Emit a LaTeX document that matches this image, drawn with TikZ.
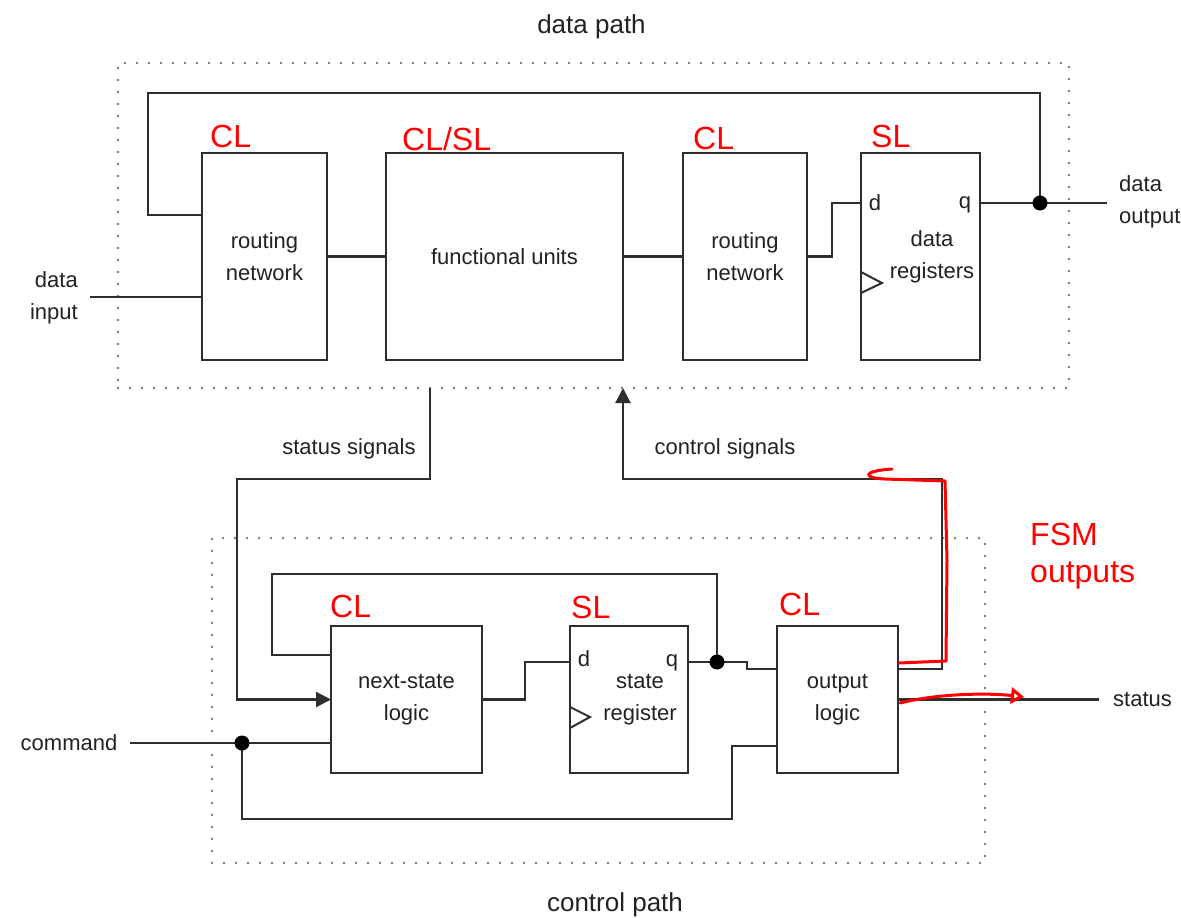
\documentclass[tikz,border=0pt]{standalone}
\usepackage{fontspec}
\setmainfont{Liberation Sans}
\usetikzlibrary{calc,arrows.meta}
\definecolor{ln}{HTML}{2E2E2E}
\definecolor{tx}{HTML}{222222}
\definecolor{dotc}{HTML}{7A7A7A}
\definecolor{rd}{HTML}{FF0000}
\newcommand\fslab{\fontsize{22}{32}\selectfont}
\newcommand\fstitle{\fontsize{26}{32}\selectfont}
\newcommand\fsred{\fontsize{32}{40}\selectfont}
\tikzset{
  wire/.style={draw=ln,line width=2.3pt},
  blk/.style={draw=ln,line width=2.5pt,minimum height=207pt,inner sep=0pt,outer sep=0pt,align=center,font=\fslab,text=tx},
  cblk/.style={blk,minimum height=147pt},
  dotbox/.style={draw=dotc,line width=2.8pt,dash pattern=on 0pt off 12pt,line cap=round,inner sep=0pt,outer sep=0pt},
  lab/.style={font=\fslab,text=tx,inner sep=0pt,align=center},
  ttl/.style={font=\fstitle,text=tx,inner sep=0pt},
  redlab/.style={font=\fsred,text=rd,inner sep=0pt},
  jdot/.style={circle,fill=black,inner sep=0pt,minimum size=15pt},
  arr/.style={-{Triangle[length=15pt,width=15pt]}},
  clk/.style={draw=ln,line width=2pt},
  redline/.style={draw=rd,line width=3pt,line cap=round,line join=round},
}
\begin{document}
\begin{tikzpicture}[x=1pt,y=-1pt]
\useasboundingbox[fill=white] (0,0) rectangle (1181,918);

% dotted enclosures
\node[dotbox,minimum width=951pt,minimum height=325pt] (dp) at (593.5,225.5) {};
\node[dotbox,minimum width=773pt,minimum height=325pt] (cp) at (598.5,700.5) {};

% data path blocks
\node[blk,minimum width=125pt] (rn1) at (264.5,256.5) {routing\\network};
\node[blk,minimum width=237pt] (fu) at (504.5,256.5) {functional units};
\node[blk,minimum width=124pt] (rn2) at (745,256.5) {routing\\network};
\node[blk,minimum width=119pt] (dreg) at (920.5,256.5) {};
\node[lab] (dregt) at (932,256.5) {data\\registers};
\node[lab] (dregd) at (875,203) {d};
\node[lab] (dregq) at (965,205) {q};

% control path blocks
\node[cblk,minimum width=151pt] (ns) at (406.5,699.5) {next-state\\logic};
\node[cblk,minimum width=118pt] (sreg) at (629,699.5) {};
\node[lab] (sregt) at (640,699.5) {state\\register};
\node[lab] (sregd) at (584,659) {d};
\node[lab] (sregq) at (672,663) {q};
\node[cblk,minimum width=121pt] (ol) at (837.5,699.5) {output\\logic};

% clock triangles
\draw[clk] ($(dreg.south west)+(0,-88)$) -- ++(21,11) -- ++(-21,10);
\draw[clk] ($(sreg.south west)+(0,-66)$) -- ++(20,10) -- ++(-20,11);

% free ends and junctions
\coordinate (din) at (90,297);
\coordinate (dout) at (1107,203);
\coordinate (cmd) at (130,743);
\coordinate (st) at (1099,699.5);
\coordinate (jd) at (1040,203);
\coordinate (js) at (717,662);
\coordinate (jc) at (242,743);

% data path wires
\draw[wire] (din) -- (din -| rn1.west);
\draw[wire] (rn1.east) -- (fu.west);
\draw[wire] (fu.east) -- (rn2.west);
\draw[wire] (rn2.east) -- ++(25,0) |- ($(dreg.north west)+(0,50)$);
\draw[wire] ($(dreg.north east)+(0,50)$) -- (dout);
\draw[wire] (jd) |- (148,93) |- ($(rn1.north west)+(0,62)$);

% between paths
\draw[wire,arr] ($(dp.south west)+(312,0)$) |- (237,479) |- (ns.west);
\draw[wire,arr] ($(ol.north east)+(0,43)$) -| (942,479) -| ($(dp.south west)+(505,0)$);

% control path wires
\draw[wire] (ns.east) -- ++(43,0) |- ($(sreg.north west)+(0,36)$);
\draw[wire] ($(sreg.north east)+(0,36)$) -- (747,662) |- ($(ol.north west)+(0,43)$);
\draw[wire] (js) |- (272,574) |- ($(ns.north west)+(0,29)$);
\draw[wire] (cmd) -- ($(ns.south west)+(0,-30)$);
\draw[wire] (jc) |- (732,819) |- ($(ol.south west)+(0,-27)$);
\draw[wire] (ol.east) -- (st);

\node[jdot] (jdA) at (jd) {};
\node[jdot] (jsA) at (js) {};
\node[jdot] (jcA) at (jc) {};

% labels
\node[ttl,anchor=base] (tdp) at (591.5,33) {data path};
\node[ttl,anchor=base] (tcp) at (615,911) {control path};
\node[lab,anchor=east,align=right] (tdin) at (78,297.5) {data\\input};
\node[lab,anchor=west,align=left] (tdout) at (1119,201.5) {data\\output};
\node[lab] (tss) at (349,449) {status signals};
\node[lab] (tcs) at (725,449) {control signals};
\node[lab] (tcmd) at (69,743) {command};
\node[lab,anchor=west] (tst) at (1113,699.5) {status};

% red annotations
\node[redlab,anchor=base west] (r1) at (210,147) {CL};
\node[redlab,anchor=base west] (r2) at (402,150) {CL/SL};
\node[redlab,anchor=base west] (r3) at (693,149) {CL};
\node[redlab,anchor=base west] (r4) at (871,147) {SL};
\node[redlab,anchor=base west] (r5) at (330,617) {CL};
\node[redlab,anchor=base west] (r6) at (571,618) {SL};
\node[redlab,anchor=base west] (r7) at (779,615) {CL};
\node[redlab,anchor=base west] (r8) at (1030,545) {FSM};
\node[redlab,anchor=base west] (r9) at (1030,582) {outputs};

\draw[redline] (899,663) -- (946,661) -- (947,560) -- (945,481) -- (885,479)
  .. controls (862,478) and (862,471) .. (892,469);
\draw[redline,-{Triangle[open,length=13pt,width=16pt]}] (900,703) .. controls (940,693) and (990,693) .. (1024,697);
\end{tikzpicture}
\end{document}
